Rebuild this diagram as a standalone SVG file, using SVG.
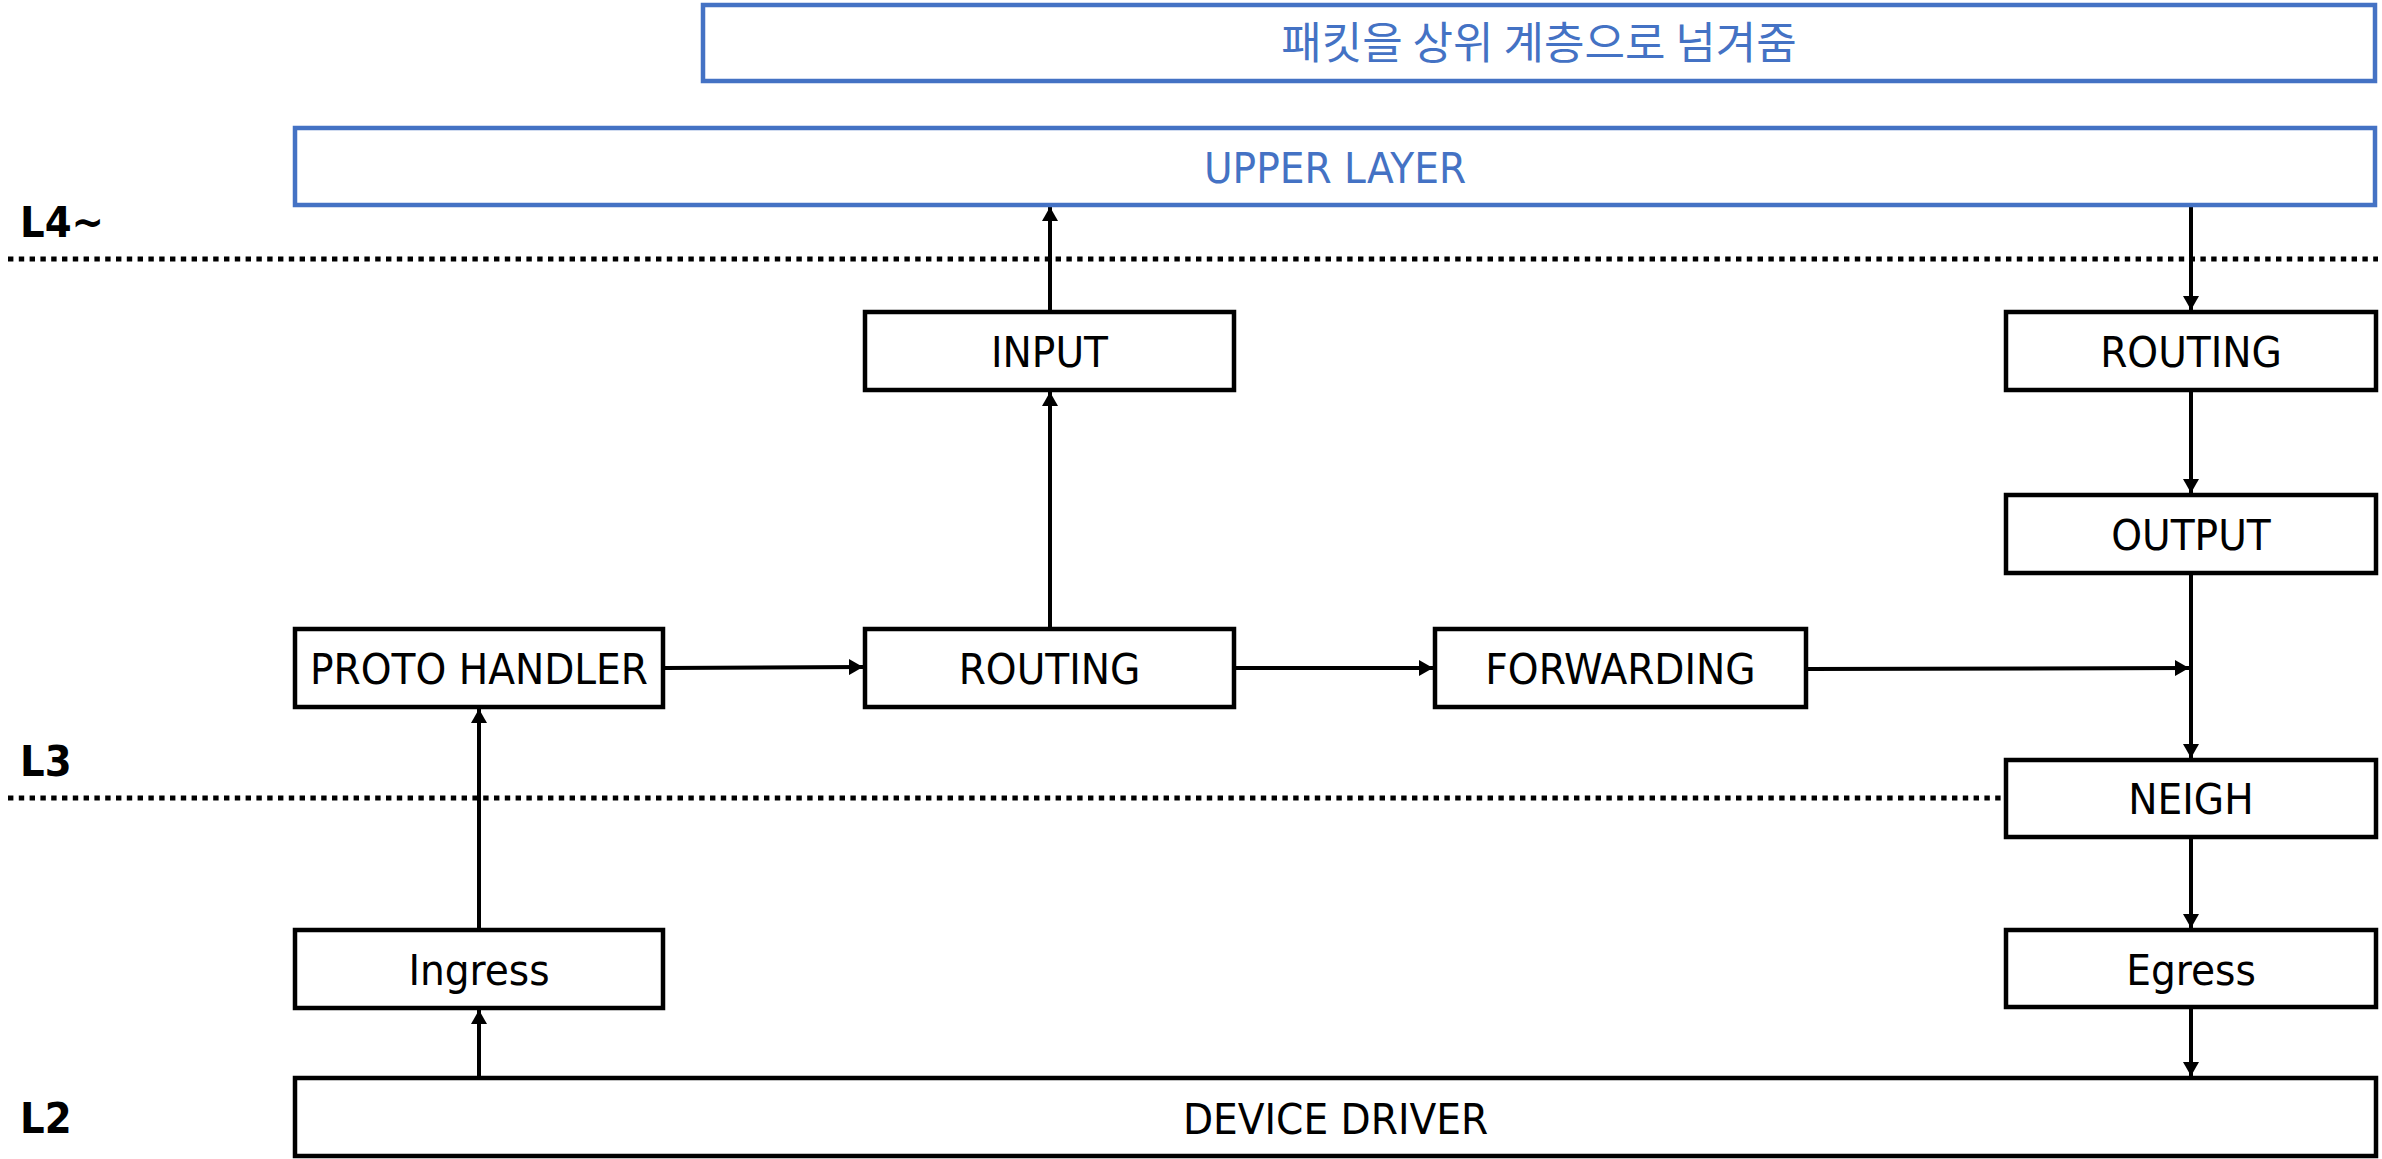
<svg xmlns="http://www.w3.org/2000/svg" width="2382" height="1159" viewBox="0 0 2382 1159">
<style>
.box{fill:#fff;stroke:#000;stroke-width:4.5}
.bbox{fill:#fff;stroke:#4472C4;stroke-width:4.5}
.lbl{font-family:"DejaVu Sans Condensed","DejaVu Sans",sans-serif;font-stretch:condensed;font-size:43.5px;fill:#000;text-anchor:middle}
.blbl{font-family:"DejaVu Sans Condensed","DejaVu Sans",sans-serif;font-stretch:condensed;font-size:43.5px;fill:#4472C4;text-anchor:middle}
.kr{font-family:"Noto Sans CJK KR",sans-serif;font-size:44px;fill:#4472C4;text-anchor:middle}
.lvl{font-family:"DejaVu Sans Condensed","DejaVu Sans",sans-serif;font-stretch:condensed;font-weight:bold;font-size:43px;fill:#000}
.dash{stroke:#000;stroke-width:5;stroke-dasharray:5.4 5.4;fill:none}
.conn{stroke:#000;stroke-width:4;fill:none;marker-end:url(#arr)}
</style>
<defs>
<marker id="arr" viewBox="0 0 14 16" refX="14" refY="8" markerWidth="14" markerHeight="16" markerUnits="userSpaceOnUse" orient="auto">
<path d="M0,0 L14,8 L0,16 z" fill="#000"/>
</marker>
</defs>
<rect width="2382" height="1159" fill="#fff"/>
<g id="levels">
<line class="dash" x1="8" y1="259" x2="2378" y2="259"/>
<line class="dash" x1="8" y1="798" x2="2002" y2="798"/>
<text class="lvl" x="20" y="237">L4~</text>
<text class="lvl" x="20" y="776">L3</text>
<text class="lvl" x="20" y="1133">L2</text>
</g>
<g id="connectors">
<line class="conn" x1="2191" y1="207" x2="2191" y2="310"/>
<line class="conn" x1="1050" y1="310" x2="1050" y2="207"/>
<line class="conn" x1="1050" y1="627" x2="1050" y2="392"/>
<line class="conn" x1="665" y1="668" x2="863" y2="667"/>
<line class="conn" x1="1236" y1="668" x2="1433" y2="668"/>
<line class="conn" x1="1808" y1="669" x2="2189" y2="668"/>
<line class="conn" x1="2191" y1="392" x2="2191" y2="493"/>
<line class="conn" x1="2191" y1="575" x2="2191" y2="758"/>
<line class="conn" x1="2191" y1="839" x2="2191" y2="928"/>
<line class="conn" x1="2191" y1="1009" x2="2191" y2="1076"/>
<line class="conn" x1="479" y1="1076" x2="479" y2="1010"/>
<line class="conn" x1="479" y1="928" x2="479" y2="709"/>
</g>
<g id="n-pass">
<rect class="bbox" x="703" y="5" width="1672" height="76"/>
<text class="kr" x="1539" y="59">패킷을 상위 계층으로 넘겨줌</text>
</g>
<g id="n-upper">
<rect class="bbox" x="295" y="128" width="2080" height="77"/>
<text class="blbl" x="1335" y="183">UPPER LAYER</text>
</g>
<g id="n-input">
<rect class="box" x="865" y="312" width="369" height="78"/>
<text class="lbl" x="1049.5" y="367">INPUT</text>
</g>
<g id="n-proto">
<rect class="box" x="295" y="629" width="368" height="78"/>
<text class="lbl" x="479" y="684">PROTO HANDLER</text>
</g>
<g id="n-routing-in">
<rect class="box" x="865" y="629" width="369" height="78"/>
<text class="lbl" x="1049.5" y="684">ROUTING</text>
</g>
<g id="n-forwarding">
<rect class="box" x="1435" y="629" width="371" height="78"/>
<text class="lbl" x="1620.5" y="684">FORWARDING</text>
</g>
<g id="n-routing-out">
<rect class="box" x="2006" y="312" width="370" height="78"/>
<text class="lbl" x="2191" y="367">ROUTING</text>
</g>
<g id="n-output">
<rect class="box" x="2006" y="495" width="370" height="78"/>
<text class="lbl" x="2191" y="550">OUTPUT</text>
</g>
<g id="n-neigh">
<rect class="box" x="2006" y="760" width="370" height="77"/>
<text class="lbl" x="2191" y="814">NEIGH</text>
</g>
<g id="n-ingress">
<rect class="box" x="295" y="930" width="368" height="78"/>
<text class="lbl" x="479" y="985">Ingress</text>
</g>
<g id="n-egress">
<rect class="box" x="2006" y="930" width="370" height="77"/>
<text class="lbl" x="2191" y="985">Egress</text>
</g>
<g id="n-driver">
<rect class="box" x="295" y="1078" width="2081" height="78"/>
<text class="lbl" x="1335.5" y="1134">DEVICE DRIVER</text>
</g>
</svg>
